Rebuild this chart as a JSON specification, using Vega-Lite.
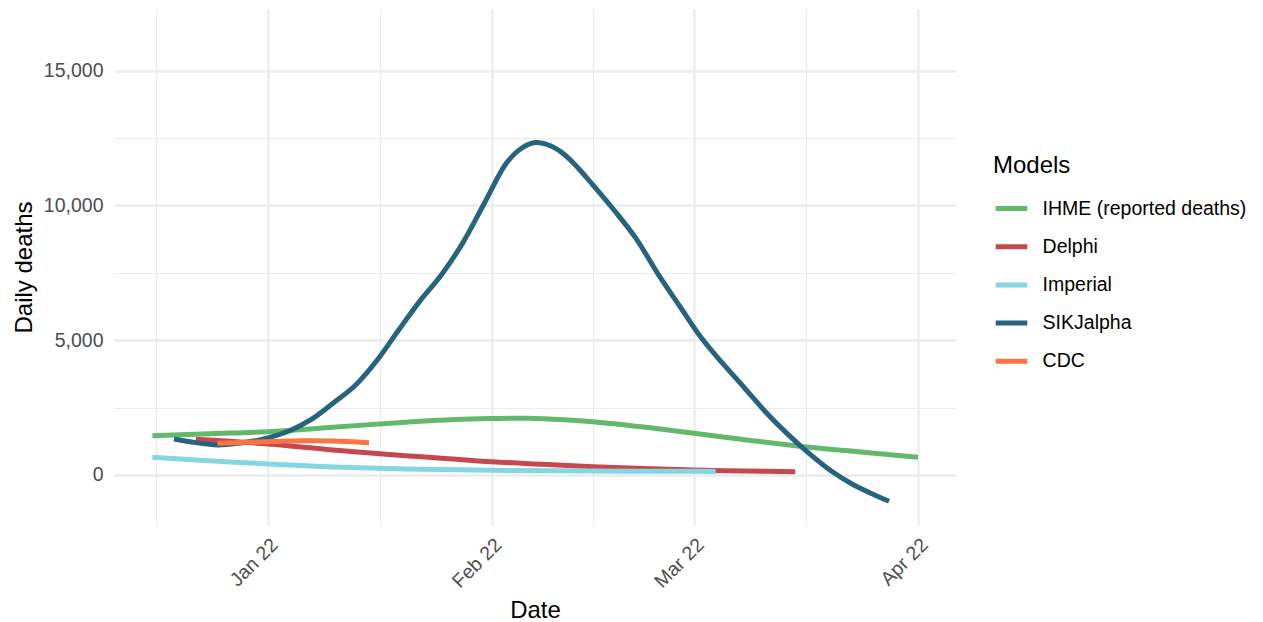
{
  "$schema": "https://vega.github.io/schema/vega-lite/v6.json",
  "width": 842,
  "height": 516,
  "autosize": {"type": "none"},
  "padding": {"left": 114, "top": 9, "right": 307, "bottom": 97},
  "background": "white",
  "config": {"view": {"stroke": null}, "font": "Liberation Sans"},
  "data": {
    "values": [
      {"model": "IHME (reported deaths)", "date": "2021-12-16", "deaths": 1458},
      {"model": "IHME (reported deaths)", "date": "2021-12-24", "deaths": 1532},
      {"model": "IHME (reported deaths)", "date": "2022-01-01", "deaths": 1606},
      {"model": "IHME (reported deaths)", "date": "2022-01-10", "deaths": 1769},
      {"model": "IHME (reported deaths)", "date": "2022-01-20", "deaths": 1960},
      {"model": "IHME (reported deaths)", "date": "2022-01-27", "deaths": 2060},
      {"model": "IHME (reported deaths)", "date": "2022-02-01", "deaths": 2092},
      {"model": "IHME (reported deaths)", "date": "2022-02-06", "deaths": 2103},
      {"model": "IHME (reported deaths)", "date": "2022-02-11", "deaths": 2050},
      {"model": "IHME (reported deaths)", "date": "2022-02-15", "deaths": 1977},
      {"model": "IHME (reported deaths)", "date": "2022-02-22", "deaths": 1780},
      {"model": "IHME (reported deaths)", "date": "2022-03-01", "deaths": 1547},
      {"model": "IHME (reported deaths)", "date": "2022-03-08", "deaths": 1310},
      {"model": "IHME (reported deaths)", "date": "2022-03-15", "deaths": 1085},
      {"model": "IHME (reported deaths)", "date": "2022-03-22", "deaths": 905},
      {"model": "IHME (reported deaths)", "date": "2022-04-01", "deaths": 656},

      {"model": "Delphi", "date": "2021-12-22", "deaths": 1324},
      {"model": "Delphi", "date": "2022-01-01", "deaths": 1150},
      {"model": "Delphi", "date": "2022-01-10", "deaths": 927},
      {"model": "Delphi", "date": "2022-01-20", "deaths": 716},
      {"model": "Delphi", "date": "2022-01-25", "deaths": 625},
      {"model": "Delphi", "date": "2022-02-01", "deaths": 493},
      {"model": "Delphi", "date": "2022-02-08", "deaths": 397},
      {"model": "Delphi", "date": "2022-02-15", "deaths": 308},
      {"model": "Delphi", "date": "2022-02-22", "deaths": 237},
      {"model": "Delphi", "date": "2022-03-01", "deaths": 185},
      {"model": "Delphi", "date": "2022-03-08", "deaths": 148},
      {"model": "Delphi", "date": "2022-03-15", "deaths": 122},

      {"model": "Imperial", "date": "2021-12-16", "deaths": 656},
      {"model": "Imperial", "date": "2021-12-22", "deaths": 560},
      {"model": "Imperial", "date": "2022-01-01", "deaths": 408},
      {"model": "Imperial", "date": "2022-01-10", "deaths": 300},
      {"model": "Imperial", "date": "2022-01-20", "deaths": 225},
      {"model": "Imperial", "date": "2022-02-01", "deaths": 172},
      {"model": "Imperial", "date": "2022-02-15", "deaths": 148},
      {"model": "Imperial", "date": "2022-03-01", "deaths": 137},
      {"model": "Imperial", "date": "2022-03-04", "deaths": 133},

      {"model": "SIKJalpha", "date": "2021-12-19", "deaths": 1335},
      {"model": "SIKJalpha", "date": "2021-12-22", "deaths": 1200},
      {"model": "SIKJalpha", "date": "2021-12-25", "deaths": 1115},
      {"model": "SIKJalpha", "date": "2021-12-28", "deaths": 1180},
      {"model": "SIKJalpha", "date": "2021-12-31", "deaths": 1310},
      {"model": "SIKJalpha", "date": "2022-01-04", "deaths": 1640},
      {"model": "SIKJalpha", "date": "2022-01-07", "deaths": 2060},
      {"model": "SIKJalpha", "date": "2022-01-10", "deaths": 2660},
      {"model": "SIKJalpha", "date": "2022-01-13", "deaths": 3300},
      {"model": "SIKJalpha", "date": "2022-01-16", "deaths": 4220},
      {"model": "SIKJalpha", "date": "2022-01-19", "deaths": 5340},
      {"model": "SIKJalpha", "date": "2022-01-22", "deaths": 6440},
      {"model": "SIKJalpha", "date": "2022-01-25", "deaths": 7420},
      {"model": "SIKJalpha", "date": "2022-01-28", "deaths": 8620},
      {"model": "SIKJalpha", "date": "2022-01-31", "deaths": 10100},
      {"model": "SIKJalpha", "date": "2022-02-03", "deaths": 11560},
      {"model": "SIKJalpha", "date": "2022-02-05", "deaths": 12100},
      {"model": "SIKJalpha", "date": "2022-02-07", "deaths": 12330},
      {"model": "SIKJalpha", "date": "2022-02-09", "deaths": 12220},
      {"model": "SIKJalpha", "date": "2022-02-11", "deaths": 11900},
      {"model": "SIKJalpha", "date": "2022-02-13", "deaths": 11370},
      {"model": "SIKJalpha", "date": "2022-02-15", "deaths": 10756},
      {"model": "SIKJalpha", "date": "2022-02-18", "deaths": 9800},
      {"model": "SIKJalpha", "date": "2022-02-21", "deaths": 8760},
      {"model": "SIKJalpha", "date": "2022-02-24", "deaths": 7460},
      {"model": "SIKJalpha", "date": "2022-02-27", "deaths": 6268},
      {"model": "SIKJalpha", "date": "2022-03-02", "deaths": 5090},
      {"model": "SIKJalpha", "date": "2022-03-05", "deaths": 4127},
      {"model": "SIKJalpha", "date": "2022-03-08", "deaths": 3225},
      {"model": "SIKJalpha", "date": "2022-03-11", "deaths": 2309},
      {"model": "SIKJalpha", "date": "2022-03-14", "deaths": 1505},
      {"model": "SIKJalpha", "date": "2022-03-17", "deaths": 783},
      {"model": "SIKJalpha", "date": "2022-03-20", "deaths": 147},
      {"model": "SIKJalpha", "date": "2022-03-23", "deaths": -355},
      {"model": "SIKJalpha", "date": "2022-03-26", "deaths": -740},
      {"model": "SIKJalpha", "date": "2022-03-28", "deaths": -975},

      {"model": "CDC", "date": "2021-12-25", "deaths": 1176},
      {"model": "CDC", "date": "2021-12-29", "deaths": 1215},
      {"model": "CDC", "date": "2022-01-02", "deaths": 1245},
      {"model": "CDC", "date": "2022-01-06", "deaths": 1268},
      {"model": "CDC", "date": "2022-01-10", "deaths": 1260},
      {"model": "CDC", "date": "2022-01-15", "deaths": 1198}
    ]
  },
  "mark": {"type": "line", "strokeWidth": 5, "interpolate": "catmull-rom"},
  "encoding": {
    "x": {
      "field": "date",
      "type": "temporal",
      "scale": {
        "type": "utc",
        "domain": [
          {"year": 2021, "month": 12, "date": 10, "hours": 16, "minutes": 19, "utc": true},
          {"year": 2022, "month": 4, "date": 6, "hours": 6, "minutes": 29, "utc": true}
        ]
      },
      "axis": {
        "title": "Date",
        "values": [
          {"year": 2021, "month": 12, "date": 16, "hours": 12, "utc": true},
          {"year": 2022, "month": 1, "date": 1, "utc": true},
          {"year": 2022, "month": 1, "date": 16, "hours": 12, "utc": true},
          {"year": 2022, "month": 2, "date": 1, "utc": true},
          {"year": 2022, "month": 2, "date": 15, "utc": true},
          {"year": 2022, "month": 3, "date": 1, "utc": true},
          {"year": 2022, "month": 3, "date": 16, "hours": 12, "utc": true},
          {"year": 2022, "month": 4, "date": 1, "utc": true}
        ],
        "labelExpr": "utcdate(datum.value) == 1 ? utcFormat(datum.value, '%b %y') : ''",
        "labelAngle": -45,
        "labelAlign": "right",
        "labelBaseline": "top",
        "labelPadding": 10,
        "labelFontSize": 19.5,
        "labelColor": "#4d4d4d",
        "labelOverlap": false,
        "labelFlush": false,
        "ticks": false,
        "tickSize": 0,
        "domain": false,
        "grid": true,
        "gridColor": "#ebebeb",
        "gridWidth": {"condition": {"test": "utcdate(datum.value) == 1", "value": 2.3}, "value": 1.2},
        "titleFontSize": 24,
        "titleFontWeight": "normal",
        "titleColor": "#000000",
        "titleX": 421,
        "titleY": 92,
        "titleBaseline": "alphabetic"
      }
    },
    "y": {
      "field": "deaths",
      "type": "quantitative",
      "scale": {"domain": [-1855, 17284], "nice": false, "zero": false},
      "axis": {
        "title": "Daily deaths",
        "values": [0, 2500, 5000, 7500, 10000, 12500, 15000],
        "labelExpr": "datum.value % 5000 == 0 ? format(datum.value, ',') : ''",
        "labelPadding": 11,
        "labelFontSize": 19.5,
        "labelColor": "#4d4d4d",
        "labelOverlap": false,
        "labelFlush": false,
        "ticks": false,
        "tickSize": 0,
        "domain": false,
        "grid": true,
        "gridColor": "#ebebeb",
        "gridWidth": {"condition": {"test": "datum.value % 5000 == 0", "value": 2.3}, "value": 1.2},
        "titleFontSize": 24,
        "titleFontWeight": "normal",
        "titleColor": "#000000",
        "titleX": -82.5,
        "titleY": 258,
        "titleBaseline": "alphabetic"
      }
    },
    "color": {
      "field": "model",
      "type": "nominal",
      "sort": null,
      "scale": {
        "domain": ["IHME (reported deaths)", "Delphi", "Imperial", "SIKJalpha", "CDC"],
        "range": ["#63b96b", "#c6474f", "#84d6e0", "#26637f", "#fb7444"]
      },
      "legend": {
        "title": "Models",
        "orient": "none",
        "legendX": 879,
        "legendY": 145,
        "padding": 0,
        "symbolType": "stroke",
        "symbolSize": 1000,
        "symbolStrokeWidth": 5,
        "labelFontSize": 19.5,
        "labelColor": "#000000",
        "labelLimit": 400,
        "labelOffset": 12.6,
        "rowPadding": 9.2,
        "titleFontSize": 24,
        "titleFontWeight": "normal",
        "titleColor": "#000000",
        "titlePadding": 12
      }
    }
  }
}
